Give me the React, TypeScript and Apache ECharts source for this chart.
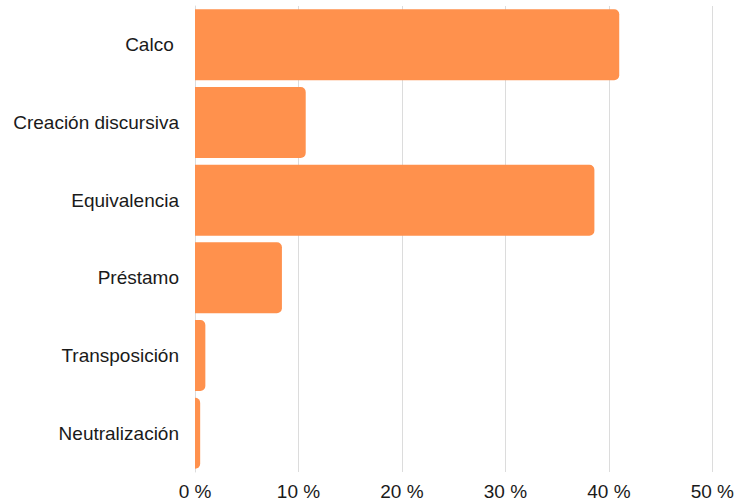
import React, { useEffect, useRef } from "react";
import * as echarts from "echarts";

const categories = ["Calco ", "Creación discursiva", "Equivalencia", "Préstamo", "Transposición", "Neutralización"];
const values = [41.0, 10.7, 38.6, 8.4, 1.0, 0.5];
const xTicks = [0, 10, 20, 30, 40, 50];

export default function App() {
  const ref = useRef<HTMLDivElement>(null);
  useEffect(() => {
    if (!ref.current) return;
    const chart = echarts.init(ref.current, null, { renderer: "svg" });
    chart.setOption({
      animation: false,
      grid: { left: 195, right: 24, top: 6, bottom: 29, containLabel: false },
      xAxis: {
        type: "value",
        min: xTicks[0],
        max: xTicks[xTicks.length - 1],
        interval: 10,
        axisLine: { show: false },
        axisTick: { show: false },
        splitLine: { show: true, lineStyle: { color: "#dcdcdc", width: 1 } },
        axisLabel: {
          formatter: (v: number) => `${v} %`,
          color: "#1a1a1a",
          fontSize: 19,
          fontFamily: "Liberation Sans",
          margin: 10,
        },
      },
      yAxis: {
        type: "category",
        inverse: true,
        data: categories,
        axisLine: { show: true, lineStyle: { color: "#dcdcdc" } },
        axisTick: { show: false },
        axisLabel: {
          color: "#1a1a1a",
          fontSize: 19,
          fontFamily: "Liberation Sans",
          margin: 16,
        },
      },
      series: [
        {
          type: "bar",
          data: values,
          barWidth: 71,
          itemStyle: { color: "#FF914D", borderRadius: [0, 5, 5, 0] },
        },
      ],
    });
    return () => chart.dispose();
  }, []);
  return <div ref={ref} style={{ width: 737, height: 501, position: "absolute", left: 0, top: 0 }} />;
}
